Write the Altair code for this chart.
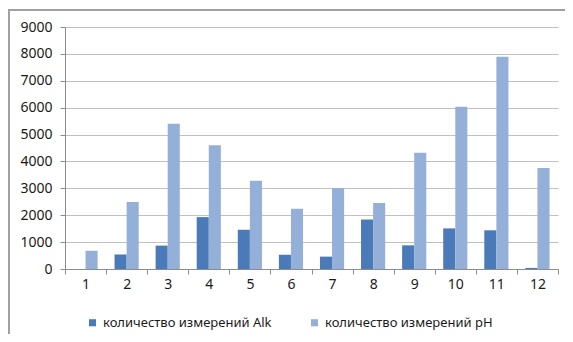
import altair as alt
import pandas as pd

months = ["1", "2", "3", "4", "5", "6", "7", "8", "9", "10", "11", "12"]
alk = [0, 540, 870, 1930, 1460, 530, 460, 1840, 880, 1510, 1440, 40]
ph = [680, 2490, 5400, 4600, 3280, 2240, 3000, 2450, 4320, 6030, 7890, 3760]
series = ["количество измерений Alk", "количество измерений pH"]
colors = ["#4A7AB8", "#94AFD8"]

rows = []
for m, a, p in zip(months, alk, ph):
    rows.append({"month": m, "series": series[0], "value": a})
    rows.append({"month": m, "series": series[1], "value": p})
df = pd.DataFrame(rows)

FONT = "Noto Sans"

bars = alt.Chart(df).mark_bar().encode(
    x=alt.X("month:N", sort=months, title=None,
            scale=alt.Scale(paddingInner=0, paddingOuter=0),
            axis=alt.Axis(labelAngle=0, tickBand="extent", domainColor="#8C8C8C",
                          tickColor="#8C8C8C", tickSize=5, labelPadding=3,
                          labelFont=FONT, labelFontSize=14, labelColor="#1A1A1A",
                          grid=False)),
    xOffset=alt.XOffset("series:N", sort=series,
                        scale=alt.Scale(paddingInner=0, paddingOuter=0.7)),
    y=alt.Y("value:Q", title=None,
            scale=alt.Scale(domain=[0, 9000], nice=False),
            axis=alt.Axis(values=list(range(0, 9001, 1000)), format="d",
                          domainColor="#8C8C8C",
                          tickColor="#8C8C8C", tickSize=5, labelPadding=8,
                          gridColor="#C0C0C0", labelFont=FONT, labelFontSize=14,
                          labelColor="#1A1A1A")),
    color=alt.Color("series:N", sort=series, title=None,
                    scale=alt.Scale(domain=series, range=colors),
                    legend=alt.Legend(orient="none", legendX=21, legendY=289,
                                      direction="horizontal", symbolType="square",
                                      symbolSize=50, symbolStrokeWidth=0,
                                      labelFont=FONT, labelFontSize=13,
                                      labelLimit=400,
                                      labelColor="#1A1A1A", columnPadding=36,
                                      labelOffset=4)),
)

frame_left = alt.Chart(df).mark_rule(color="#A0A0A0", strokeWidth=1.5).encode(
    x=alt.value(-56.5), y=alt.value(-17), y2=alt.value(330)
)
frame_top = alt.Chart(df).mark_rule(color="#A0A0A0", strokeWidth=1.5).encode(
    x=alt.value(-56.5), x2=alt.value(510), y=alt.value(-17)
)

chart = alt.layer(bars, frame_left, frame_top).properties(
    width=493, height=242,
    autosize=alt.AutoSizeParams(type="none"),
    padding={"left": 57, "top": 19, "right": 7, "bottom": 65},
).configure_view(stroke=None)

chart.save("out.html", embed_options={"renderer": "svg", "actions": False})
